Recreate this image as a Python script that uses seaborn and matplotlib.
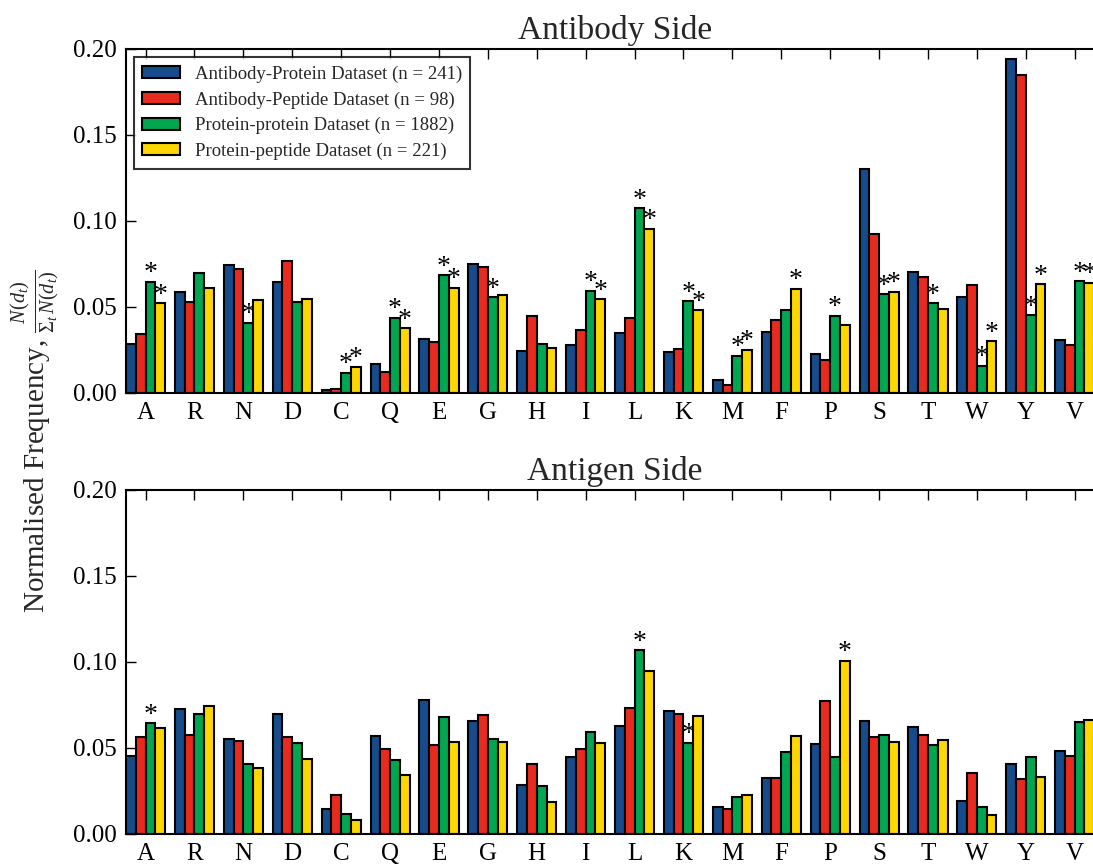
import numpy as np
import pandas as pd
import matplotlib
matplotlib.use("Agg")
import matplotlib.pyplot as plt
from matplotlib.patches import Patch
import seaborn as sns

residues = ["A", "R", "N", "D", "C", "Q", "E", "G", "H", "I", "L", "K", "M", "F", "P", "S", "T", "W", "Y", "V"]
datasets = ["Antibody-Protein Dataset (n = 241)", "Antibody-Peptide Dataset (n = 98)",
            "Protein-protein Dataset (n = 1882)", "Protein-peptide Dataset (n = 221)"]
colors = ["#164b8c", "#e82b1e", "#00a650", "#ffd700"]

# Antibody side
ab_protein = [0.0284, 0.0582, 0.0744, 0.0643, 0.0016, 0.0166, 0.0312, 0.0750, 0.0240, 0.0274,
              0.0345, 0.0233, 0.0074, 0.0349, 0.0224, 0.1300, 0.0700, 0.0553, 0.1937, 0.0304]
ab_peptide = [0.0341, 0.0526, 0.0720, 0.0767, 0.0021, 0.0120, 0.0292, 0.0728, 0.0446, 0.0361,
              0.0432, 0.0255, 0.0045, 0.0420, 0.0189, 0.0922, 0.0672, 0.0627, 0.1848, 0.0277]
ab_pp = [0.0644, 0.0695, 0.0405, 0.0528, 0.0115, 0.0434, 0.0683, 0.0555, 0.0280, 0.0593,
         0.1070, 0.0531, 0.0214, 0.0477, 0.0446, 0.0570, 0.0518, 0.0156, 0.0448, 0.0648]
ab_ppep = [0.0520, 0.0605, 0.0539, 0.0545, 0.0150, 0.0375, 0.0609, 0.0565, 0.0259, 0.0541,
           0.0952, 0.0479, 0.0250, 0.0603, 0.0393, 0.0586, 0.0487, 0.0298, 0.0629, 0.0638]
# significance stars (1 = star) for protein-protein and protein-peptide
ab_pp_sig = [1, 0, 1, 0, 1, 1, 1, 1, 0, 1, 1, 1, 1, 0, 1, 1, 1, 1, 1, 1]
ab_ppep_sig = [1, 0, 0, 0, 1, 1, 1, 0, 0, 1, 1, 1, 1, 1, 0, 1, 0, 1, 1, 1]

# Antigen side
ag_protein = [0.0448, 0.0726, 0.0551, 0.0693, 0.0140, 0.0568, 0.0778, 0.0654, 0.0282, 0.0446,
              0.0627, 0.0712, 0.0156, 0.0323, 0.0522, 0.0656, 0.0618, 0.0189, 0.0405, 0.0477]
ag_peptide = [0.0562, 0.0572, 0.0539, 0.0562, 0.0224, 0.0494, 0.0516, 0.0687, 0.0403, 0.0494,
              0.0731, 0.0697, 0.0142, 0.0323, 0.0769, 0.0562, 0.0574, 0.0349, 0.0315, 0.0450]
ag_pp = [0.0640, 0.0693, 0.0405, 0.0525, 0.0113, 0.0428, 0.0680, 0.0551, 0.0278, 0.0590,
         0.1066, 0.0528, 0.0210, 0.0475, 0.0442, 0.0570, 0.0514, 0.0154, 0.0446, 0.0646]
ag_ppep = [0.0615, 0.0743, 0.0378, 0.0434, 0.0076, 0.0339, 0.0533, 0.0533, 0.0185, 0.0528,
           0.0947, 0.0685, 0.0226, 0.0566, 0.1004, 0.0530, 0.0543, 0.0105, 0.0331, 0.0660]
ag_pp_sig = [1, 0, 0, 0, 0, 0, 0, 0, 0, 0, 1, 1, 0, 0, 0, 0, 0, 0, 0, 0]
ag_ppep_sig = [0, 0, 0, 0, 0, 0, 0, 0, 0, 0, 0, 0, 0, 0, 1, 0, 0, 0, 0, 0]

sns.set_theme(style="ticks")
plt.rcParams["font.family"] = ["Liberation Serif", "DejaVu Serif"]
plt.rcParams["mathtext.fontset"] = "custom"
plt.rcParams["mathtext.rm"] = "Liberation Serif"
plt.rcParams["mathtext.it"] = "Liberation Serif:italic"
plt.rcParams["mathtext.bf"] = "Liberation Serif:bold"

fig = plt.figure(figsize=(10.93, 8.64), dpi=100)
W, H = 1093.0, 864.0
left = 126 / W
width = 978 / W
ax1 = fig.add_axes([left, 1 - 392.5 / H, width, 344 / H])
ax2 = fig.add_axes([left, 1 - 833.5 / H, width, 344 / H])


def make_df(series):
    rows = []
    for name, vals in zip(datasets, series):
        for r, v in zip(residues, vals):
            rows.append({"residue": r, "dataset": name, "value": v})
    return pd.DataFrame(rows)


def draw(ax, series, sig_pp, sig_ppep, title):
    df = make_df(series)
    sns.barplot(data=df, x="residue", y="value", hue="dataset", order=residues,
                hue_order=datasets, palette=colors, edgecolor="black", linewidth=1.5,
                saturation=1, width=0.8, ax=ax, legend=False, zorder=2)
    for i, r in enumerate(residues):
        for j, (vals, sig) in enumerate([(series[2], sig_pp), (series[3], sig_ppep)]):
            if sig[i]:
                xc = i + (j + 2 - 1.5) * 0.2
                ax.text(xc, vals[i] + 0.0008, "*", ha="center", va="baseline",
                        fontsize=20, zorder=1.5, color="black")
    ax.set_xlim(-0.4, 19.6)
    ax.set_ylim(0, 0.2)
    ax.set_yticks([0.0, 0.05, 0.10, 0.15, 0.20])
    ax.set_yticklabels(["0.00", "0.05", "0.10", "0.15", "0.20"])
    ax.set_xlabel("")
    ax.set_ylabel("")
    ax.set_title(title, fontsize=24, pad=7)
    ax.tick_params(axis="both", direction="in", length=7, width=1, labelsize=18,
                   top=True, right=True, bottom=False, colors="black")
    ax.tick_params(axis="x", pad=7)
    ax.tick_params(axis="y", pad=7)
    for s in ax.spines.values():
        s.set_linewidth(1.5)
        s.set_color("black")
        s.set_visible(True)


draw(ax1, [ab_protein, ab_peptide, ab_pp, ab_ppep], ab_pp_sig, ab_ppep_sig, "Antibody Side")
draw(ax2, [ag_protein, ag_peptide, ag_pp, ag_ppep], ag_pp_sig, ag_ppep_sig, "Antigen Side")

handles = [Patch(facecolor=c, edgecolor="black", linewidth=1.5) for c in colors]
leg = ax1.legend(handles, datasets, loc="upper left", bbox_to_anchor=(0.008, 0.975),
                 borderaxespad=0, fontsize=13.5, frameon=True, fancybox=False,
                 handlelength=2.0, handleheight=0.6, labelspacing=0.45, borderpad=0.45,
                 handletextpad=0.8)
leg.get_frame().set_edgecolor("black")
leg.get_frame().set_linewidth(1.5)

fig.text(35 / W, 1 - 441 / H,
         r"Normalised Frequency, $\frac{N(d_t)}{\Sigma_t\,N(d_t)}$",
         rotation=90, ha="center", va="center", fontsize=21)

fig.savefig("out.png", dpi=100)
